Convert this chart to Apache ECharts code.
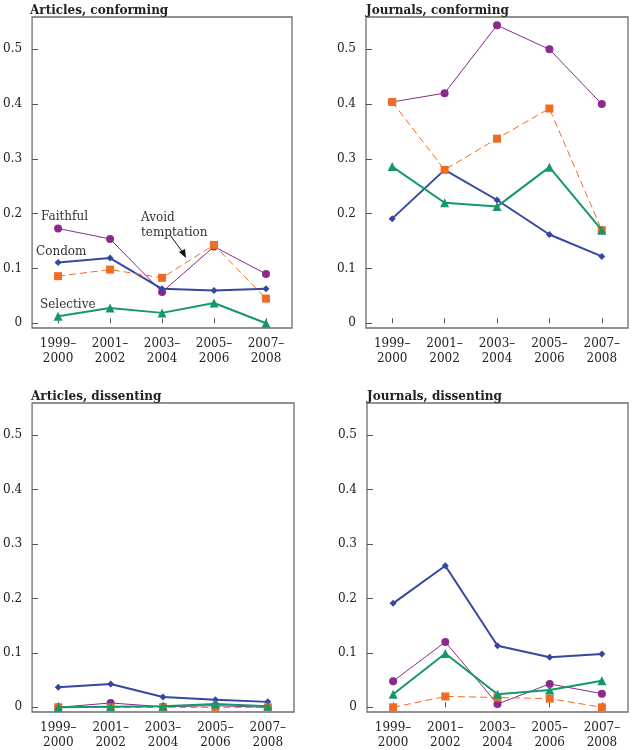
<!DOCTYPE html>
<html>
<head>
<meta charset="utf-8">
<script src="https://cdn.jsdelivr.net/npm/echarts@6/dist/echarts.min.js"></script>
<style>html,body{margin:0;padding:0;background:#fff}#c{width:633px;height:750px}</style>
</head>
<body>
<div id="c"></div>
<script>
const categories = ['1999–\n2000', '2001–\n2002', '2003–\n2004', '2005–\n2006', '2007–\n2008'];
const yTicks = [0, 0.1, 0.2, 0.3, 0.4, 0.5];
const panelTitles = ['Articles, conforming', 'Journals, conforming', 'Articles, dissenting', 'Journals, dissenting'];

// Articles, conforming
const artConfFaithful = [0.173, 0.154, 0.057, 0.140, 0.090];
const artConfCondom   = [0.111, 0.119, 0.063, 0.060, 0.063];
const artConfAvoid    = [0.086, 0.098, 0.083, 0.143, 0.045];
const artConfSelective= [0.013, 0.028, 0.019, 0.037, 0.000];
// Journals, conforming
const jrnConfFaithful = [0.404, 0.420, 0.544, 0.500, 0.400];
const jrnConfCondom   = [0.191, 0.280, 0.225, 0.162, 0.122];
const jrnConfAvoid    = [0.404, 0.280, 0.337, 0.392, 0.170];
const jrnConfSelective= [0.286, 0.220, 0.213, 0.285, 0.170];
// Articles, dissenting
const artDisFaithful  = [0.000, 0.008, 0.001, 0.003, 0.000];
const artDisCondom    = [0.037, 0.043, 0.019, 0.014, 0.010];
const artDisAvoid     = [0.000, 0.000, 0.000, 0.000, 0.000];
const artDisSelective = [0.000, 0.001, 0.002, 0.006, 0.002];
// Journals, dissenting
const jrnDisFaithful  = [0.048, 0.120, 0.006, 0.043, 0.025];
const jrnDisCondom    = [0.191, 0.260, 0.113, 0.092, 0.098];
const jrnDisAvoid     = [0.000, 0.020, 0.018, 0.016, 0.000];
const jrnDisSelective = [0.024, 0.099, 0.024, 0.032, 0.049];

const panels = [
  [artConfFaithful, artConfCondom, artConfAvoid, artConfSelective],
  [jrnConfFaithful, jrnConfCondom, jrnConfAvoid, jrnConfSelective],
  [artDisFaithful, artDisCondom, artDisAvoid, artDisSelective],
  [jrnDisFaithful, jrnDisCondom, jrnDisAvoid, jrnDisSelective]
];

const C = { faithful: '#8a2a8c', condom: '#3448a0', avoid: '#f26b22', selective: '#16976b' };
const FONT = 'DejaVu Serif';

const grids = [
  { left: 30, top: 17, width: 262, height: 311 },
  { left: 366, top: 17, width: 262, height: 311 },
  { left: 31, top: 403, width: 263, height: 311 },
  { left: 367, top: 403, width: 261, height: 311 }
];

const option = {
  animation: false,
  backgroundColor: '#fff',
  grid: grids.map(g => Object.assign({ show: true, borderColor: '#6e6e6e', borderWidth: 1.3, backgroundColor: 'transparent' }, g)),
  xAxis: grids.map((g, i) => ({
    type: 'category', gridIndex: i, data: categories, boundaryGap: true,
    axisLine: { show: false },
    axisTick: { show: true, inside: true, alignWithLabel: true, length: 5, lineStyle: { color: '#555', width: 1 } },
    axisLabel: { fontFamily: FONT, fontSize: 12, color: '#222', lineHeight: 15, margin: 8, interval: 0 },
    splitLine: { show: false }
  })),
  yAxis: grids.map((g, i) => ({
    type: 'value', gridIndex: i, min: -0.0086, max: 0.559,
    axisLine: { show: false },
    axisTick: { show: true, inside: true, length: 6, customValues: yTicks, lineStyle: { color: '#555', width: 1 } },
    axisLabel: { fontFamily: FONT, fontSize: 12, color: '#222', margin: 10, customValues: yTicks,
      formatter: v => (Math.abs(v) < 1e-9 ? '0' : String(Math.round(v * 10) / 10)) },
    splitLine: { show: false }
  })),
  title: panelTitles.map((t, i) => ({
    text: t, left: grids[i].left - 5, top: grids[i].top - 17,
    textStyle: { fontFamily: FONT, fontWeight: 'bold', fontSize: 12, color: '#222' }
  })),
  series: []
};

panels.forEach((p, i) => {
  const [fa, co, av, se] = p;
  option.series.push(
    { type: 'line', xAxisIndex: i, yAxisIndex: i, data: fa, symbol: 'circle', symbolSize: 8,
      lineStyle: { color: C.faithful, width: 1 }, itemStyle: { color: C.faithful }, z: 2 },
    { type: 'line', xAxisIndex: i, yAxisIndex: i, data: co, symbol: 'diamond', symbolSize: 7,
      lineStyle: { color: C.condom, width: 2 }, itemStyle: { color: C.condom }, z: 3 },
    { type: 'line', xAxisIndex: i, yAxisIndex: i, data: av, symbol: 'rect', symbolSize: 8,
      lineStyle: { color: C.avoid, width: 1, type: [7, 4] }, itemStyle: { color: C.avoid }, z: 4 },
    { type: 'line', xAxisIndex: i, yAxisIndex: i, data: se, symbol: 'triangle', symbolSize: 9,
      lineStyle: { color: C.selective, width: 2 }, itemStyle: { color: C.selective }, z: 5 }
  );
});

const annText = { fontFamily: FONT, fontSize: 12, fill: '#333' };
option.graphic = [
  { type: 'text', left: 41, top: 211, style: Object.assign({ text: 'Faithful' }, annText) },
  { type: 'text', left: 36, top: 246, style: Object.assign({ text: 'Condom' }, annText) },
  { type: 'text', left: 40, top: 299, style: Object.assign({ text: 'Selective' }, annText) },
  { type: 'text', left: 141, top: 210, style: Object.assign({ text: 'Avoid\ntemptation', lineHeight: 15 }, annText) },
  { type: 'line', shape: { x1: 170, y1: 235, x2: 184, y2: 254 }, style: { stroke: '#111', lineWidth: 1 } },
  { type: 'polygon', shape: { points: [[186, 258], [179, 252], [185, 249]] }, style: { fill: '#111' } }
];

const chart = echarts.init(document.getElementById('c'), null, { renderer: 'canvas' });
chart.setOption(option);
</script>
</body>
</html>
